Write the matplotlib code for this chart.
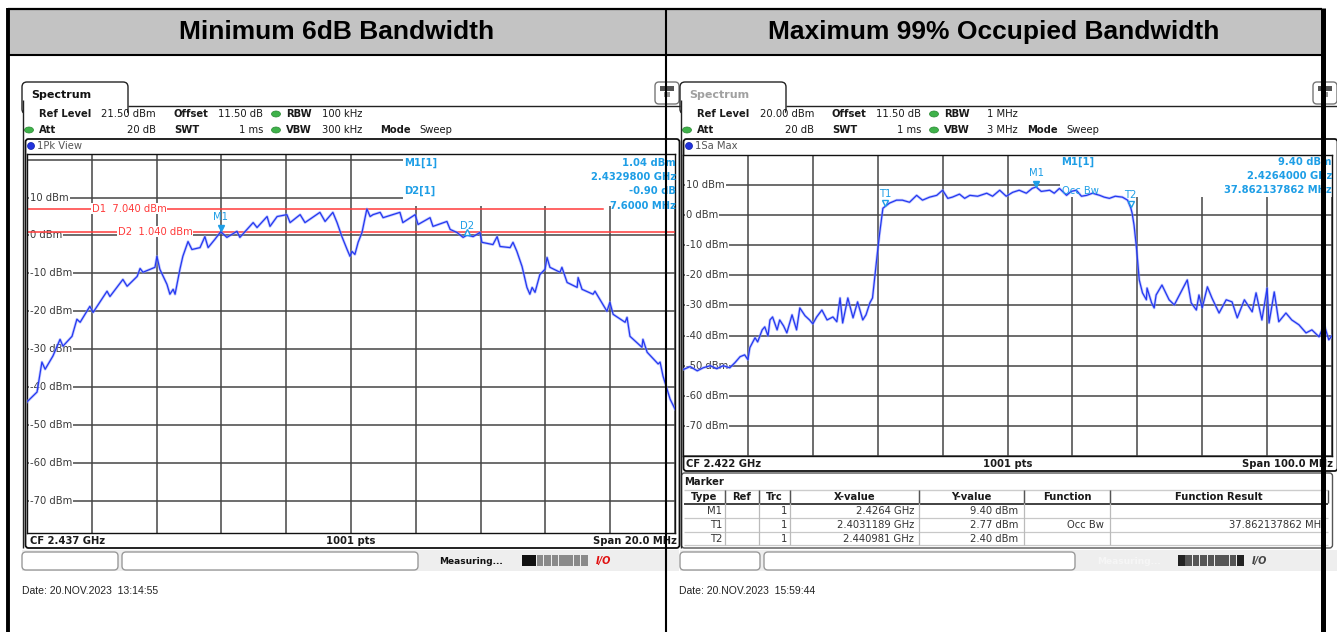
import numpy as np
import matplotlib
matplotlib.use("Agg")
import matplotlib.pyplot as plt
from matplotlib.patches import Rectangle, FancyBboxPatch, Ellipse

W, H = 1337, 632

# ---- left screen: minimum 6 dB bandwidth ----
bw6_cf_mhz = 2437.0
bw6_span_mhz = 20.0
bw6_ref_dbm = 21.5
bw6_off_mhz = [
    -10.00, -9.69, -9.54, -9.44, -9.20, -8.98, -8.89, -8.61, -8.46, -8.36,
    -8.06, -7.96, -7.53, -7.44, -7.04, -6.91, -6.60, -6.51, -6.42, -6.05,
    -5.99, -5.90, -5.68, -5.59, -5.49, -5.43, -5.28, -5.19, -5.03, -4.91,
    -4.66, -4.51, -4.41, -4.20, -4.02, -3.83, -3.52, -3.43, -3.02, -2.90,
    -2.59, -2.50, -2.28, -1.98, -1.88, -1.57, -1.42, -0.96, -0.80, -0.56,
    -0.43, -0.28, -0.12, -0.03, 0.03, 0.12, 0.22, 0.34, 0.49, 0.59,
    0.68, 0.90, 0.99, 1.51, 1.60, 1.98, 2.07, 2.44, 2.53, 2.96,
    3.06, 3.27, 3.46, 3.58, 3.77, 3.98, 4.04, 4.38, 4.51, 4.60,
    4.91, 5.00, 5.12, 5.28, 5.43, 5.52, 5.59, 5.68, 5.83, 5.99,
    6.05, 6.14, 6.45, 6.51, 6.67, 6.98, 7.01, 7.13, 7.47, 7.53,
    7.90, 7.99, 8.09, 8.46, 8.52, 8.61, 8.98, 9.01, 9.14, 9.48,
    9.54, 9.63, 9.85, 10.00,
]
bw6_dbm = [
    -43.9, -41.3, -33.4, -35.3, -31.8, -27.4, -29.2, -26.6, -22.1, -22.9,
    -18.7, -20.3, -14.7, -16.1, -11.6, -13.4, -10.8, -8.7, -9.7, -8.4,
    -5.5, -8.9, -12.9, -15.5, -14.2, -15.5, -8.9, -5.5, -1.6, -3.7,
    -3.2, -0.3, -3.2, -1.0, 1.0, -0.5, 1.1, -0.5, 3.4, 2.1,
    5.0, 2.4, 5.0, 5.5, 3.4, 5.5, 3.4, 6.1, 3.7, 6.1,
    3.4, -0.3, -3.7, -5.5, -4.2, -5.0, -1.8, 0.8, 7.0, 5.0,
    5.5, 6.1, 4.7, 6.1, 3.4, 5.5, 2.9, 4.7, 2.4, 3.7,
    1.6, 0.8, -0.5, 0.1, -0.3, 0.8, -1.8, -2.4, -0.3, -2.9,
    -3.2, -1.8, -4.2, -8.2, -13.7, -15.5, -13.7, -15.0, -10.3, -8.9,
    -5.8, -8.4, -9.7, -8.4, -12.4, -13.7, -11.1, -14.2, -15.5, -14.7,
    -20.0, -17.6, -20.8, -22.9, -21.6, -26.6, -29.5, -27.4, -30.8, -33.9,
    -33.4, -37.1, -43.2, -45.8,
]
bw6_m1_mhz = 2432.98
bw6_m1_dbm = 1.04
bw6_d2_delta_mhz = 7.6
bw6_d2_delta_db = -0.90
bw6_d1_line_dbm = 7.04
bw6_d2_line_dbm = 1.04

# ---- right screen: maximum 99 % occupied bandwidth ----
obw_cf_mhz = 2422.0
obw_span_mhz = 100.0
obw_ref_dbm = 20.0
obw_off_mhz = [
    -50.0, -48.9, -47.8, -46.9, -45.8, -44.8, -43.8, -42.8, -42.0, -41.2,
    -40.5, -40.0, -39.7, -38.9, -38.5, -37.8, -37.4, -36.9, -36.6, -36.2,
    -35.5, -35.1, -34.5, -34.0, -33.2, -32.5, -32.0, -31.2, -30.5, -30.0,
    -29.4, -28.6, -27.8, -26.9, -26.3, -25.8, -25.4, -24.6, -23.8, -23.1,
    -22.3, -21.8, -21.2, -20.8, -20.5, -20.0, -19.7, -19.2, -18.9, -18.2,
    -17.1, -16.2, -15.1, -14.0, -13.1, -12.0, -10.9, -10.0, -9.2, -8.5,
    -7.4, -6.6, -5.8, -4.6, -3.2, -2.3, -1.2, -0.2, 0.8, 1.8,
    2.9, 3.8, 4.4, 5.2, 6.5, 7.2, 8.0, 9.1, 9.8, 10.6,
    11.4, 12.2, 13.1, 14.2, 14.9, 15.7, 16.6, 17.7, 18.5, 19.0,
    19.2, 19.5, 19.8, 20.0, 20.3, 20.8, 21.4, 21.5, 22.2, 22.6,
    22.9, 23.8, 24.9, 25.7, 26.5, 27.7, 28.3, 29.1, 29.5, 30.0,
    30.8, 31.5, 32.6, 33.7, 34.6, 35.4, 36.5, 37.7, 38.3, 39.2,
    40.0, 40.3, 41.1, 41.8, 42.9, 43.8, 44.9, 46.0, 46.9, 48.0,
    48.8, 49.5, 50.0,
]
obw_dbm = [
    -51.3, -50.3, -51.7, -50.7, -50.0, -51.0, -50.0, -50.7, -49.0, -47.0,
    -46.4, -48.0, -44.0, -40.7, -42.1, -38.1, -37.1, -40.1, -34.8, -33.8,
    -38.1, -34.8, -36.8, -39.1, -33.1, -38.1, -30.8, -33.4, -34.8, -36.1,
    -33.8, -31.5, -34.8, -33.8, -35.4, -27.5, -35.8, -27.5, -34.1, -28.8,
    -34.8, -33.1, -29.1, -27.5, -21.5, -11.6, -6.0, 2.3, 2.8, 4.0,
    5.0, 5.0, 4.3, 6.6, 5.0, 6.0, 6.6, 8.3, 5.6, 6.0,
    7.0, 5.6, 6.6, 6.3, 7.3, 6.3, 8.3, 6.3, 7.6, 8.3,
    7.3, 8.9, 9.4, 7.9, 8.3, 7.3, 8.9, 6.6, 7.9, 8.3,
    6.3, 6.6, 7.3, 6.6, 6.0, 5.6, 6.3, 6.0, 5.0, 2.4,
    0.7, -3.3, -9.3, -13.9, -21.5, -25.8, -28.1, -24.2, -29.1, -30.8,
    -26.5, -23.2, -28.1, -29.8, -26.5, -21.5, -29.1, -31.5, -26.5, -30.8,
    -23.8, -27.5, -32.5, -28.1, -28.8, -34.1, -28.1, -32.1, -25.8, -34.8,
    -24.2, -35.8, -25.5, -35.4, -32.5, -34.8, -36.4, -39.1, -38.1, -40.4,
    -36.4, -41.4, -40.1,
]
obw_marker_names = ["M1", "T1", "T2"]
obw_marker_ghz = [2.4264, 2.4031189, 2.440981]
obw_marker_dbm = [9.40, 2.77, 2.40]
obw_marker_xtext = ["2.4264 GHz", "2.4031189 GHz", "2.440981 GHz"]
obw_occ_mhz = 37.862137862

grid_levels = [10, 0, -10, -20, -30, -40, -50, -60, -70]
titles = ["Minimum 6dB Bandwidth", "Maximum 99% Occupied Bandwidth"]
dates = ["Date: 20.NOV.2023  13:14:55", "Date: 20.NOV.2023  15:59:44"]

SCREEN = "DejaVu Sans"
CYAN = "#1e9ee6"
RED = "#ff3b3b"
GRID = "#454545"

fig = plt.figure(figsize=(W / 100, H / 100), dpi=100)
fig.patch.set_facecolor("white")


def overlay(z):
    ax = fig.add_axes([0, 0, 1, 1], zorder=z)
    ax.set_xlim(0, W)
    ax.set_ylim(H, 0)
    ax.axis("off")
    return ax


bg = overlay(0)
fg = overlay(10)


def label(ax, x, y, s, size=7.2, weight="normal", color="#1a1a1a", ha="left", **kw):
    return ax.text(x, y, s, fontsize=size, fontweight=weight, color=color, ha=ha,
                   va="center", family=SCREEN, **kw)


def hline(ax, x0, x1, y, **kw):
    ax.plot([x0, x1], [y, y], solid_capstyle="butt", **kw)


def vline(ax, x, y0, y1, **kw):
    ax.plot([x, x], [y0, y1], solid_capstyle="butt", **kw)


def green_dot(x, y):
    bg.add_patch(Ellipse((x, y), 9, 6, fc="#3fb24a", ec="#2a8a33", lw=0.5))


def draw_screen(x0, active, ref_txt, rbw_txt, vbw_txt, rbw_x, mode_x, trace_name, frame_bottom):
    # tab
    bg.add_patch(FancyBboxPatch((x0 + 22, 82), 106, 32, boxstyle="round,pad=0,rounding_size=5",
                                fc="white", ec="#222222", lw=1))
    bg.add_patch(Rectangle((x0 + 22.8, 106), 104.5, 10, fc="white", ec="none", zorder=3))
    label(bg, x0 + 31, 95, "Spectrum", size=8, weight="bold",
          color="#111111" if active else "#a0a0a0")
    hline(bg, x0 + 128, x0 + 680, 106, color="#222222", lw=1)
    vline(bg, x0 + 22.5, 100, 548, color="#222222", lw=1, zorder=4)
    # small icon
    bg.add_patch(FancyBboxPatch((x0 + 655, 82), 24, 22, boxstyle="round,pad=0,rounding_size=4",
                                fc="white", ec="#777777", lw=1))
    bg.add_patch(Rectangle((x0 + 660, 86), 14, 5, fc="#555555", ec="none"))
    bg.add_patch(Rectangle((x0 + 664, 92), 6, 5, fc="#999999", ec="none"))
    # settings rows
    label(bg, x0 + 39, 114, "Ref Level", weight="bold")
    label(bg, x0 + 156, 114, ref_txt, ha="right")
    label(bg, x0 + 174, 114, "Offset", weight="bold")
    label(bg, x0 + 263, 114, "11.50 dB", ha="right")
    green_dot(x0 + 276, 114)
    label(bg, x0 + 286, 114, "RBW", weight="bold")
    label(bg, x0 + rbw_x, 114, rbw_txt)
    green_dot(x0 + 29, 130)
    label(bg, x0 + 39, 130, "Att", weight="bold")
    label(bg, x0 + 156, 130, "20 dB", ha="right")
    label(bg, x0 + 174, 130, "SWT", weight="bold")
    label(bg, x0 + 263, 130, "1 ms", ha="right")
    green_dot(x0 + 276, 130)
    label(bg, x0 + 286, 130, "VBW", weight="bold")
    label(bg, x0 + rbw_x, 130, vbw_txt)
    label(bg, x0 + mode_x, 130, "Mode", weight="bold")
    label(bg, x0 + mode_x + 39, 130, "Sweep")
    # graph frame
    bg.add_patch(FancyBboxPatch((x0 + 25.5, 139), 654, frame_bottom - 139,
                                boxstyle="round,pad=0,rounding_size=3",
                                fc="white", ec="#111111", lw=1.3))
    bg.add_patch(Ellipse((x0 + 31, 146), 7, 7, fc="#2233dd", ec="#1122aa", lw=0.5))
    label(bg, x0 + 37, 146, trace_name, color="#555555")


def spectrum_axes(x0, x1, y0, y1, cf, span, ref):
    ax = fig.add_axes([x0 / W, 1 - y1 / H, (x1 - x0) / W, (y1 - y0) / H], zorder=5)
    ax.set_xlim(cf - span / 2, cf + span / 2)
    ax.set_ylim(ref - 100, ref)
    ax.set_xticks(np.linspace(cf - span / 2, cf + span / 2, 11))
    ax.set_yticks([v for v in range(20, -90, -10) if ref - 100 <= v <= ref])
    ax.tick_params(length=0, labelbottom=False, labelleft=False)
    ax.grid(True, color=GRID, lw=1.1)
    ax.set_axisbelow(True)
    for s in ax.spines.values():
        s.set_color("#111111")
        s.set_linewidth(1)
    for lv in grid_levels:
        ax.text(0.005, lv, f"{lv} dBm", transform=ax.get_yaxis_transform(), fontsize=7.2,
                family=SCREEN, color="#3a3a3a", va="center", ha="left", zorder=2,
                bbox=dict(fc="white", ec="none", pad=0.6))
    return ax


def trace(ax, f, lv):
    ax.plot(f, lv, color="#8f9cff", lw=2.0, alpha=0.55, zorder=3)
    ax.plot(f, lv, color="#2438f0", lw=0.9, zorder=4)


# ---------------- table header ----------------
bg.add_patch(Rectangle((8, 8), 1314, 47, fc="#c3c3c3", ec="none"))
for cx, t in zip([336.5, 993.5], titles):
    bg.text(cx, 32, t, fontsize=19, fontweight="bold", family="Liberation Sans",
            ha="center", va="center", color="black")

# ---------------- left screen ----------------
draw_screen(0, True, f"{bw6_ref_dbm:.2f} dBm", "100 kHz", "300 kHz", 322, 380, "1Pk View", 548)
axl = spectrum_axes(27, 675, 154, 533, bw6_cf_mhz, bw6_span_mhz, bw6_ref_dbm)
l_lo = bw6_cf_mhz - bw6_span_mhz / 2
l_hi = bw6_cf_mhz + bw6_span_mhz / 2
axl.add_patch(Rectangle((l_lo + bw6_span_mhz * 376 / 648, 7.7), bw6_span_mhz, 20,
                        fc="white", ec="none", zorder=1))
axl.plot([l_lo, l_lo + bw6_span_mhz * 576 / 648], [bw6_d1_line_dbm] * 2, color=RED, lw=1.1, zorder=2)
axl.plot([l_lo, l_hi], [bw6_d2_line_dbm] * 2, color=RED, lw=1.1, zorder=2)
axl.text(l_lo + bw6_span_mhz * 65 / 648, bw6_d1_line_dbm, f"D1  {bw6_d1_line_dbm:.3f} dBm",
         fontsize=7.2, family=SCREEN, color=RED, va="center", zorder=2.5,
         bbox=dict(fc="white", ec="none", pad=0.4))
axl.text(l_lo + bw6_span_mhz * 91 / 648, bw6_d2_line_dbm, f"D2  {bw6_d2_line_dbm:.3f} dBm",
         fontsize=7.2, family=SCREEN, color=RED, va="center", zorder=2.5,
         bbox=dict(fc="white", ec="none", pad=0.4))
trace(axl, bw6_cf_mhz + np.array(bw6_off_mhz), bw6_dbm)
d2_mhz = bw6_m1_mhz + bw6_d2_delta_mhz
d2_dbm = bw6_m1_dbm + bw6_d2_delta_db
axl.plot([bw6_m1_mhz], [bw6_m1_dbm + 1.0], marker="v", ms=5, color=CYAN, zorder=5)
axl.annotate("M1", (bw6_m1_mhz, bw6_m1_dbm), xytext=(0, 15), textcoords="offset pixels",
             fontsize=7.2, family=SCREEN, color=CYAN, ha="center", va="center", zorder=5)
axl.plot([d2_mhz], [d2_dbm + 0.8], marker="^", ms=5, mfc="white", mec=CYAN, mew=1, zorder=5)
axl.annotate("D2", (d2_mhz, d2_dbm), xytext=(0, 9), textcoords="offset pixels",
             fontsize=7.2, family=SCREEN, color=CYAN, ha="center", va="center", zorder=5)

label(fg, 404, 163, "M1[1]", weight="bold", color=CYAN)
label(fg, 404, 191, "D2[1]", weight="bold", color=CYAN)
label(fg, 676, 163, f"{bw6_m1_dbm:.2f} dBm", weight="bold", color=CYAN, ha="right")
label(fg, 676, 177, f"{bw6_m1_mhz / 1000:.7f} GHz", weight="bold", color=CYAN, ha="right")
label(fg, 676, 191, f"{bw6_d2_delta_db:.2f} dB", weight="bold", color=CYAN, ha="right")
label(fg, 676, 206, f"{bw6_d2_delta_mhz:.4f} MHz", weight="bold", color=CYAN, ha="right")

label(bg, 30, 541, f"CF {bw6_cf_mhz / 1000:.3f} GHz", weight="bold")
label(bg, 351, 541, "1001 pts", weight="bold", ha="center")
label(bg, 677, 541, f"Span {bw6_span_mhz:.1f} MHz", weight="bold", ha="right")

# ---------------- right screen ----------------
xr = 658
draw_screen(xr, False, f"{obw_ref_dbm:.2f} dBm", "1 MHz", "3 MHz", 329, 369, "1Sa Max", 471)
axr = spectrum_axes(683, 1332, 155, 456, obw_cf_mhz, obw_span_mhz, obw_ref_dbm)
r_lo = obw_cf_mhz - obw_span_mhz / 2
axr.add_patch(Rectangle((r_lo + obw_span_mhz * 377 / 649, 6.2), obw_span_mhz, 20,
                        fc="white", ec="none", zorder=1))
trace(axr, obw_cf_mhz + np.array(obw_off_mhz), obw_dbm)
for name, fx, lv in zip(obw_marker_names, obw_marker_ghz, obw_marker_dbm):
    fm = fx * 1000
    if name.startswith("M"):
        axr.plot([fm], [lv + 1.1], marker="v", ms=5, color=CYAN, zorder=5)
        off = 14
    else:
        axr.plot([fm], [lv + 1.3], marker="v", ms=5, mfc="white", mec=CYAN, mew=1, zorder=5)
        off = 13
    axr.annotate(name, (fm, lv), xytext=(0, off), textcoords="offset pixels",
                 fontsize=7.2, family=SCREEN, color=CYAN, ha="center", va="center", zorder=5)
label(fg, 1062, 191, "Occ Bw", color=CYAN)
label(fg, 1061, 162, "M1[1]", weight="bold", color=CYAN)
label(fg, 1332, 162, f"{obw_marker_dbm[0]:.2f} dBm", weight="bold", color=CYAN, ha="right")
label(fg, 1332, 176, f"{obw_marker_ghz[0]:.7f} GHz", weight="bold", color=CYAN, ha="right")
label(fg, 1332, 190, f"{obw_occ_mhz:.9f} MHz", weight="bold", color=CYAN, ha="right")

label(bg, 686, 464, f"CF {obw_cf_mhz / 1000:.3f} GHz", weight="bold")
label(bg, 1008, 464, "1001 pts", weight="bold", ha="center")
label(bg, 1333, 464, f"Span {obw_span_mhz:.1f} MHz", weight="bold", ha="right")

# marker table
bg.add_patch(FancyBboxPatch((681.5, 473), 651, 75, boxstyle="round,pad=0,rounding_size=3",
                            fc="white", ec="#555555", lw=1))
label(bg, 684, 482, "Marker", weight="bold")
cols = [684, 725, 759, 790, 919, 1024, 1110, 1328]
heads = ["Type", "Ref", "Trc", "X-value", "Y-value", "Function", "Function Result"]
hline(bg, 684, 1328, 490, color="#cccccc", lw=1)
hline(bg, 684, 1328, 503.5, color="#333333", lw=1.3)
for yy in (518, 532, 545):
    hline(bg, 684, 1328, yy, color="#c8c8c8", lw=0.9)
for cx in cols[1:-1]:
    vline(bg, cx, 490, 545, color="#bbbbbb", lw=0.9)
    vline(bg, cx, 490, 503, color="#555555", lw=1)
vline(bg, 1328, 490, 503, color="#555555", lw=1)
for a, b, h in zip(cols[:-1], cols[1:], heads):
    label(bg, (a + b) / 2, 497, h, weight="bold", ha="center")
for i, (name, fx, lv) in enumerate(zip(obw_marker_names, obw_marker_xtext, obw_marker_dbm)):
    yy = 511 + 14 * i
    label(bg, 722, yy, name, ha="right", color="#333333")
    label(bg, 787, yy, "1", ha="right", color="#333333")
    label(bg, 914, yy, fx, ha="right", color="#333333")
    label(bg, 1018, yy, f"{lv:.2f} dBm", ha="right", color="#333333")
    if name == "T1":
        label(bg, 1104, yy, "Occ Bw", ha="right", color="#333333")
        label(bg, 1326, yy, f"{obw_occ_mhz:.9f} MHz", ha="right", color="#333333")

# ---------------- status bars ----------------
for x0, right in ((0, False), (xr, True)):
    bg.add_patch(Rectangle((x0 + 22, 550), 657, 21, fc="#eeeeee", ec="none"))
    bx = [(x0 + 22, 96), (x0 + 122, 296)] if not right else [(x0 + 22, 80), (x0 + 106, 311)]
    for bx0, bw in bx:
        bg.add_patch(FancyBboxPatch((bx0, 552), bw, 18, boxstyle="round,pad=0,rounding_size=4",
                                    fc="white", ec="#9a9a9a", lw=1))
    px0 = x0 + (522 if not right else 520)
    label(bg, px0 - 83 if not right else px0 - 81, 561, "Measuring...", size=6.5, weight="bold",
          color="#111111" if not right else "#f6f6f6")
    for k in range(9):
        if right:
            c = "#222222" if k in (0, 8) else "#555555"
        else:
            c = "#111111" if k < 2 else "#8a8a8a"
        bg.add_patch(Rectangle((px0 + k * 7.4, 555), 6.6, 11, fc=c, ec="none"))
    label(bg, px0 + 74, 561, "I/O", size=7, weight="bold", style="italic",
          color="#e01010" if not right else "#444444")

for x0, d in zip((22, 679), dates):
    bg.text(x0, 591, d, fontsize=7.5, family="Liberation Sans", color="#222222", va="center")

# ---------------- table borders ----------------
hline(fg, 8, 1322, 8.5, color="black", lw=1.6, zorder=6)
hline(fg, 8, 1322, 55, color="black", lw=1.5, zorder=6)
vline(fg, 8, 8, H, color="black", lw=2.8, zorder=6)
vline(fg, 665.5, 8, H, color="black", lw=1.5, zorder=6)
vline(fg, 1322.5, 8, H, color="black", lw=3.6, zorder=6)

fig.savefig("out.png", dpi=100, facecolor="white")
